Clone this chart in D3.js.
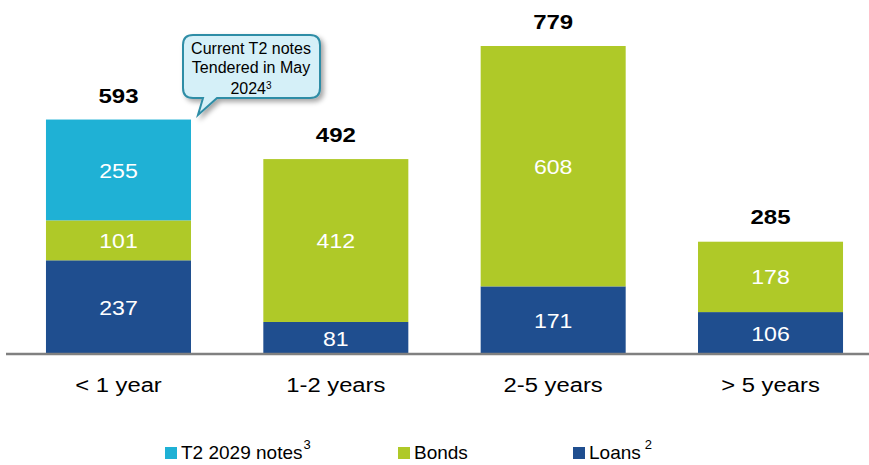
<!DOCTYPE html>
<html><head><meta charset="utf-8">
<script src="https://cdn.jsdelivr.net/npm/d3@7/dist/d3.min.js"></script>
<style>body{margin:0;background:#fff}svg{display:block;font-family:"Liberation Sans",Arial,sans-serif}</style>
</head><body><svg id="c" width="869" height="465"></svg>
<script>
const categories = ["< 1 year","1-2 years","2-5 years","> 5 years"];
const loans = [237,81,171,106];
const bonds = [101,412,608,178];
const t2notes = [255,0,0,0];
const totals = [593,492,779,285];
const seriesNames = ["T2 2029 notes","Bonds","Loans"];
const seriesSup = ["3","","2"];
const colors = {loans:"#1F4E8F", bonds:"#AFC928", t2:"#1FB1D5"};
const FONT = "'Liberation Sans',Arial,sans-serif";

const svg = d3.select("#c");
const baseY = 354;
const x = d3.scaleBand().domain(categories).range([-62.7, 951.7]).paddingInner(0.3328).paddingOuter(0.5);
const y = d3.scaleLinear().domain([0,779]).range([baseY, 46]);

const stackData = categories.map((c,i)=>({cat:c, loans:loans[i], bonds:bonds[i], t2:t2notes[i]}));
const stack = d3.stack().keys(["loans","bonds","t2"])(stackData);

stack.forEach(layer=>{
  svg.append("g").selectAll("rect").data(layer).join("rect")
    .attr("x", d=>x(d.data.cat)).attr("width", x.bandwidth())
    .attr("y", d=>y(d[1])).attr("height", d=>y(d[0])-y(d[1]))
    .attr("fill", colors[layer.key]);
  svg.append("g").selectAll("text").data(layer.filter(d=>d[1]-d[0]>0)).join("text")
    .attr("transform", d=>`translate(${x(d.data.cat)+x.bandwidth()/2},${(y(d[0])+y(d[1]))/2}) scale(1.1,1)`)
    .attr("dy","0.36em").attr("text-anchor","middle")
    .attr("fill","#fff").attr("font-size",21)
    .text(d=>d[1]-d[0]);
});

// totals
svg.append("g").selectAll("text").data(categories).join("text")
  .attr("transform", (d,i)=>`translate(${x(d)+x.bandwidth()/2},${y(totals[i])-17}) scale(1.2,1)`)
  .attr("text-anchor","middle").attr("font-weight","bold").attr("font-size",20)
  .attr("fill","#000").text((d,i)=>totals[i]);

// axis
const ax = svg.append("g").attr("transform",`translate(0,${baseY})`).call(d3.axisBottom(x).tickSize(0).tickPadding(0));
ax.select(".domain").attr("stroke","#808080").attr("stroke-width",2.5).attr("d","M6,0H869");
ax.selectAll(".tick text").attr("y",0).attr("dy",0).attr("transform","translate(0,38) scale(1.19,1)")
  .attr("font-size",20).attr("fill","#000").attr("font-family",FONT);

// callout
const defs = svg.append("defs");
const f = defs.append("filter").attr("id","sh").attr("x","-20%").attr("y","-20%").attr("width","150%").attr("height","150%");
f.append("feDropShadow").attr("dx",3).attr("dy",3).attr("stdDeviation",2.5).attr("flood-color","#000").attr("flood-opacity",0.35);
const cx0=183, cy0=35, cx1=320, cy1=98, r=10;
const path = `M${cx0+r},${cy0} H${cx1-r} Q${cx1},${cy0} ${cx1},${cy0+r} V${cy1-r} Q${cx1},${cy1} ${cx1-r},${cy1} H217 L198,115 L203,${cy1} H${cx0+r} Q${cx0},${cy1} ${cx0},${cy1-r} V${cy0+r} Q${cx0},${cy0} ${cx0+r},${cy0} Z`;
svg.append("path").attr("d",path).attr("fill","#D5F0F8").attr("stroke","#2F8DA6").attr("stroke-width",2).attr("filter","url(#sh)");
const ct = svg.append("text").attr("text-anchor","middle").attr("font-size",16).attr("fill","#000");
ct.append("tspan").attr("x",251).attr("y",54).text("Current T2 notes");
ct.append("tspan").attr("x",251).attr("y",73).text("Tendered in May");
const l3 = svg.append("text").attr("x",251).attr("y",94).attr("text-anchor","middle").attr("font-size",16);
l3.append("tspan").text("2024");
l3.append("tspan").attr("font-size",10).attr("dy",-5).text("3");

// legend
const legX = [165,398,573];
const legColors = [colors.t2, colors.bonds, colors.loans];
seriesNames.forEach((n,i)=>{
  svg.append("rect").attr("x",legX[i]).attr("y",447).attr("width",12).attr("height",12).attr("fill",legColors[i]);
  const t = svg.append("text").attr("x",legX[i]+16).attr("y",459).attr("font-size",19).attr("fill","#000");
  t.append("tspan").text(n);
  if(seriesSup[i]) t.append("tspan").attr("font-size",13).attr("dy",-10).attr("dx", i==2?4:1).text(seriesSup[i]);
});
</script></body></html>
